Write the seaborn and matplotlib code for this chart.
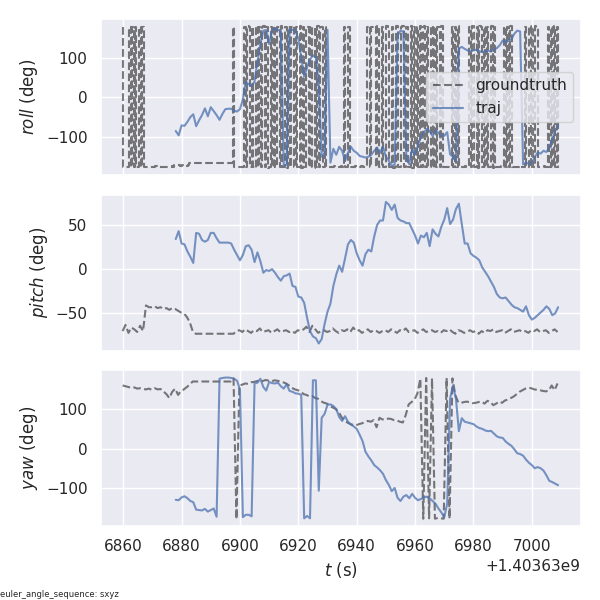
import numpy as np
import matplotlib
matplotlib.use("Agg")
import matplotlib.pyplot as plt
import seaborn as sns

# time base (seconds); matplotlib shows it as an offset "+1.40363e9"
T_BASE = 1403630000.0
GT_T0 = 6859.8      # first groundtruth stamp (relative to T_BASE)
GT_DT = 1.0         # groundtruth pitch / yaw spacing (s)
GT_ROLL_DT = 0.5    # groundtruth roll spacing (s)
TRAJ_T0 = 6878.0    # first estimated-trajectory stamp, 1 s spacing

# ---------------- groundtruth (deg) ----------------
gt_roll = [178, -177, -176, -176, -177, 178, -176, 177, -177, 178, -176, -177, 178, -176, 177, -177,
           -175, -176, -175, -177, -176, -175, -176, -174, -175, -176,
           -177, -176, -175, -176, -175, -177, -176, -175, -174, -175,
           -172, -171, -170, -172, -174, -172, -171, -170, -173, -170,
           -166, -166, -166, -166, -166, -166, -166, -166, -166, -166,
           -166, -166, -166, -166, -166, -166, -166, -166, -166, -166,
           -166, -166, -166, -166, -166, -166, -166, -166, -166, -166,
           178, -176, -175, -176, -175, -176, -176, -175,
           178, -177, 179, 178, -176, 178, -177, -178, 179, -176,
           178, -177, 177, 179, -176, 178, -178, -177, 178, -176,
           179, -177, 178, 178, -176, 179, -177, -176, 178, -178,
           177, -176, 178, 179, -177, 178, -176, -177, 179, -178,
           178, -176, 177, 178, -177, 179, -176, -178, 178, -177,
           179, -176, 178, 177, -177, 178, -176, -177,
           -175, -176, -175, -174, -176, -175, -176, -175, -174, -176,
           178, -177, -176, 178, -177, -176,
           -175, -176, -174, -175, -176, -175, -174, -176, -175, -176,
           178, 179, -177, 178, 179, 178, -176, 179,
           -177, -176, 178, -177, -176, 179, 178, -177, -176, 178,
           -178, -177, 179, -176, -177, 178, 179, -176, -177, 178,
           -177, -176, 179, -178, 178, -177,
           178, -177, 179, -176, 178, 179, -177, 178, -176, -177,
           179, -178, 178, -176, 177, 178, -177, 179, -176, -177,
           -175, -176, -175, -176,
           178, -177, 178, -176, 179, -177, -176,
           -175, -176, -174, -175, -176,
           178, -177, 179, -176, -177, 178, -178, 179, 178, -176,
           177, -177, 178, -176, -177, 179, -178, 178, -176,
           -175, -176, -175, -174, -176,
           178, -177, 178, -176, 179, -177, -176,
           -175, -176, -175, -174, -176, -175, -176,
           178, -177, -176, 179, -178, 178, -176, 179, 178, -177, -176,
           -175, -176, -174, -175, -176,
           178, -177, 178, -176, 179, -177, 178,
           -176]

gt_pitch = [-70, -63, -72, -66, -68, -71, -64, -70,
            -41, -43, -43, -42, -44, -43, -45, -44, -46, -44,
            -45, -47, -49, -50, -54, -60, -70,
            -73, -73, -73, -73, -73, -73, -73, -73, -73, -73, -73, -73, -73, -73,
            -70, -69, -71, -68, -70, -72, -69, -70, -67, -71,
            -70, -69, -72, -70, -68, -71, -70, -69, -71, -70,
            -72, -69, -70, -68, -65, -71, -64, -68, -72, -70,
            -69, -71, -70, -67, -70, -72, -69, -70, -68, -71,
            -66, -70, -69, -72, -70, -68, -71, -69, -70, -72,
            -70, -69, -71, -68, -70, -72, -69, -70, -67, -71,
            -70, -69, -72, -70, -68, -71, -70, -69, -71, -70,
            -72, -69, -70, -68, -71, -73, -69, -70, -72, -71,
            -69, -71, -70, -73, -70, -72, -69, -70, -68, -71,
            -70, -69, -72, -70, -68, -71, -70, -69, -71, -70,
            -72, -69, -70, -68, -71, -70, -69, -72, -70, -68, -71]

gt_yaw = [160, 158, 156, 154, 155, 152, 153, 151, 150, 152,
          149, 153, 150, 151, 145, 138, 128, 144, 152, 136,
          146, 150, 156, 162, 170,
          170, 170, 170, 170, 170, 170, 170, 170, 170, 170, 170, 170, 170,
          178, -179, 160,
          162, 165, 164, 168, 169, 171, 173, 171, 174,
          172, 170, 173, 172, 170, 168, 165, 160, 154, 150,
          148, 145, 138, 136, 132, 133, 128, 126, 120, 116,
          114, 108, 104, 100, 93, 80, 70, 66, 62, 60,
          59, 62, 64, 67, 70, 68, 72, 54, 78, 74,
          73, 76, 75, 72, 71, 68, 66, 85, 112, 118,
          124, 140, 177, -178, 179, -177, 178, -178, -176, -177,
          -178, 179, -178, 178, 135, 117, 116, 118, 119, 117,
          115, 116, 118, 119, 114, 121, 118, 110, 114, 119,
          116, 122, 124, 128, 132, 138, 144, 148, 152, 154,
          153, 150, 149, 148, 146, 145, 147, 160, 148, 165]

# ---------------- estimated trajectory (deg) ----------------
traj_roll = [-85, -96, -71, -72, -62, -50, -43, -73, -58, -45,
             -28, -48, -25, -35, -45, -57, -42, -30, -29, -29,
             -34, -36, -30, -5, 39, 33, 28, 40, 90, 135,
             168, 170, 134, 168, 174, 170, 168, -173, -170, 172,
             170, 168, 148, 100, 52, 75, 95, 106, 100, 30,
             -150, -140, 170, -165, -130, -145, -125, -135, -160, -140,
             -125, -135, -140, -148, -150, -152, -150, -145, -135, -128,
             -140, -125, -150, -160, -173, -170, 156, 168, 165, -150,
             -169, -130, -145, -120, -100, -88, -80, -85, -98, -83,
             -90, -98, -97, -88, -144, -150, -161, 123, 127, 122,
             118, 116, 118, 120, 116, 114, 116, 118, 115, 120,
             124, 131, 143, 138, 142, 147, 160, 168, 166, -169,
             -165, -168, -165, -150, -140, -142, -135, -138, -128, -105,
             -85, -70]

traj_pitch = [34, 43, 29, 28, 20, 14, 7, 41, 40, 33,
              31, 33, 41, 41, 35, 30, 30, 30, 30, 29,
              22, 16, 10, 16, 26, 27, 22, 8, 19, 9,
              -4, -1, -2, 0, -4, -9, -13, -8, -7, -5,
              -19, -20, -31, -32, -38, -55, -70, -76, -78, -84,
              -79, -62, -48, -39, -19, -6, 4, -3, 12, 28,
              33, 30, 18, 10, 4, 17, 22, 20, 37, 50,
              55, 55, 76, 73, 67, 73, 58, 55, 54, 52,
              52, 45, 38, 29, 38, 36, 41, 26, 45, 40,
              37, 48, 56, 69, 51, 56, 68, 74, 51, 29,
              29, 18, 15, 13, 10, 2, -3, -8, -14, -20,
              -28, -32, -33, -32, -36, -40, -43, -44, -46, -48,
              -42, -52, -57, -55, -52, -49, -46, -42, -45, -52,
              -50, -43]

traj_yaw = [-130, -131, -124, -121, -126, -133, -136, -155, -156, -157,
            -153, -160, -156, -152, -173, 177, 179, 180, 180, 179,
            177, 172, 150, -174, -168, -168, -172, 165, 167, 177,
            156, 147, 169, 166, 165, 167, 158, 152, 163, 146,
            144, 140, 139, 136, -177, -171, -177, 173, 173, -107,
            78, 88, 111, 112, 108, 100, 80, 70, 82, 68,
            61, 56, 50, 35, 19, -8, -20, -30, -42, -48,
            -55, -64, -80, -92, -108, -100, -125, -133, -122, -118,
            -126, -115, -125, -131, -128, -124, -122, -126, -133, -140,
            -152, -162, -174, -140, 127, 159, 127, 44, 77, 68,
            66, 64, 62, 56, 52, 50, 46, 44, 45, 38,
            31, 28, 27, 18, 12, 7, -2, -12, -14, -18,
            -28, -36, -42, -50, -47, -50, -56, -68, -82, -85,
            -89, -93]

y_labels = ["$roll$ (deg)", "$pitch$ (deg)", "$yaw$ (deg)"]
series_names = ["groundtruth", "traj"]
footer = "euler_angle_sequence: sxyz"

sns.set_theme(context="notebook", style="darkgrid")
plt.rcParams["font.family"] = ["DejaVu Sans"]

fig, axes = plt.subplots(3, 1, sharex=True, figsize=(6, 6), dpi=100)
fig.subplots_adjust(left=0.168, right=0.968, top=0.968, bottom=0.123, hspace=0.128)

blue = sns.color_palette("deep")[0]

gt_sets = [gt_roll, gt_pitch, gt_yaw]
gt_steps = [GT_ROLL_DT, GT_DT, GT_DT]
traj_sets = [traj_roll, traj_pitch, traj_yaw]
gt_draw = ["steps-mid", "default", "default"]
for ax, gt, dt, tr, lab, ds in zip(axes, gt_sets, gt_steps, traj_sets, y_labels, gt_draw):
    t_gt = T_BASE + GT_T0 + dt * np.arange(len(gt))
    t_tr = T_BASE + TRAJ_T0 + np.arange(len(tr))
    sns.lineplot(x=t_gt, y=gt, ax=ax, color="black", alpha=0.5, linestyle="--",
                 linewidth=1.5, estimator=None, legend=False, label=series_names[0],
                 drawstyle=ds)
    sns.lineplot(x=t_tr, y=tr, ax=ax, color=blue, alpha=0.75,
                 linewidth=1.5, estimator=None, legend=False, label=series_names[1])
    ax.set_ylabel(lab)
    ax.set_xlabel("")

axes[2].set_xlabel("$t$ (s)")
handles, labels = axes[0].get_legend_handles_labels()
axes[0].legend(handles, labels, loc="center right")

fig.text(0.0, 0.005, footer, fontsize=6)
fig.savefig("out.png", dpi=100)
